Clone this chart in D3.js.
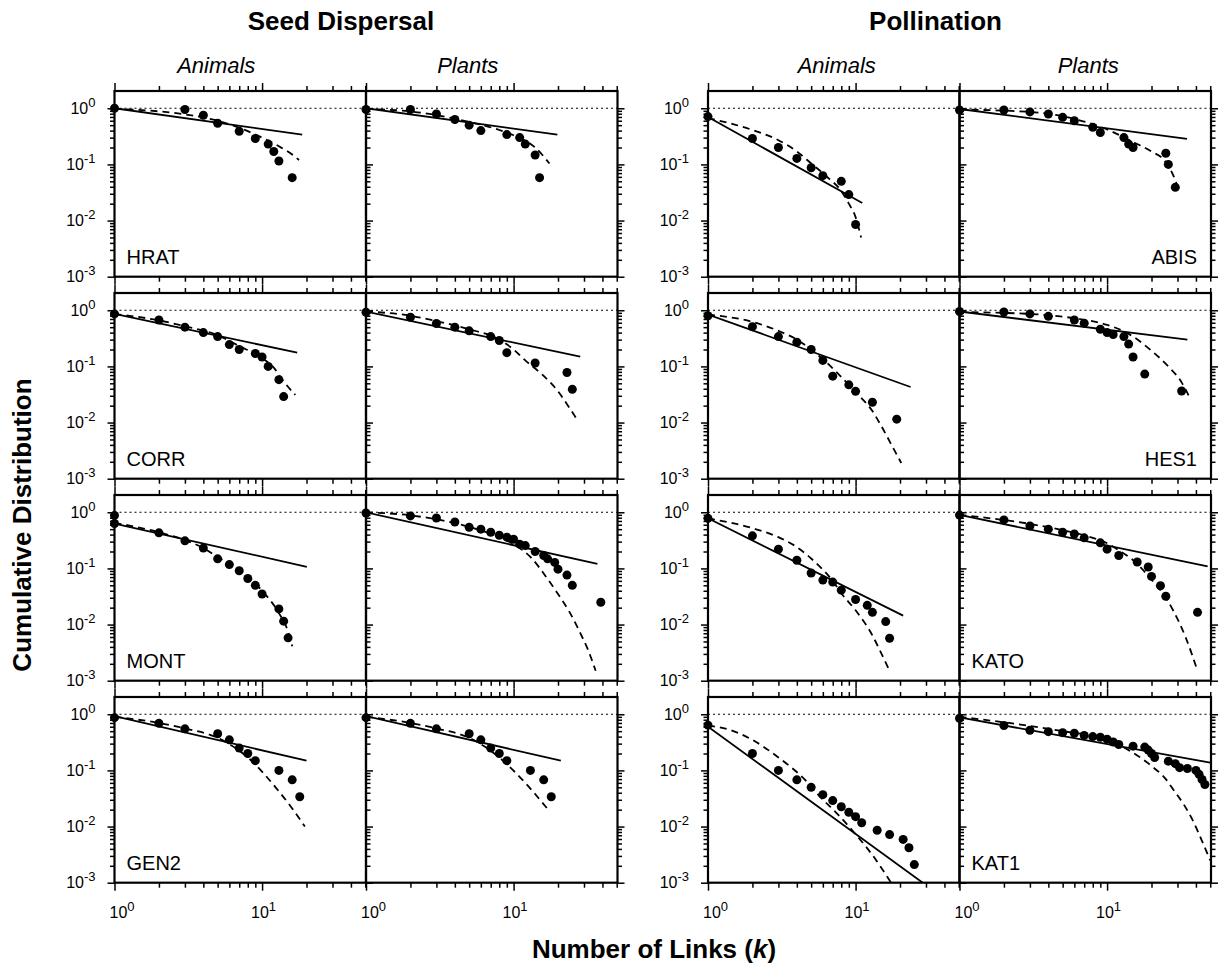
<!DOCTYPE html>
<html>
<head>
<meta charset="utf-8">
<title>Cumulative degree distributions</title>
<script src="https://cdnjs.cloudflare.com/ajax/libs/d3/7.8.5/d3.min.js"></script>
<style>
  body { margin: 0; background: #fff; }
  svg { font-family: "Liberation Sans", Arial, Helvetica, sans-serif; }
</style>
</head>
<body>
<script>

// values, [k, P(>=k)]
// Pts = observed, Pow = power-law fit (solid), Cut = truncated fit (dashed)

// seed dispersal
const hratAnimalsPts = [[1,1.0],[3,0.95],[4,0.75],[5,0.54],[7,0.39],[9,0.29],[11,0.23],[12,0.17],[13,0.115],[16,0.058]];
const hratAnimalsPow = [[1,1.0],[18.7,0.34]];
const hratAnimalsCut = [[1,0.98],[2,0.88],[3,0.78],[5,0.6],[7,0.45],[10,0.3],[13,0.21],[16,0.15],[17.8,0.12]];

const hratPlantsPts = [[1,0.95],[2,0.95],[3,0.79],[4,0.63],[5,0.50],[6,0.40],[9,0.34],[11,0.30],[12,0.23],[14,0.147],[15,0.058]];
const hratPlantsPow = [[1,1.0],[19.8,0.34]];
const hratPlantsCut = [[1,0.97],[2,0.88],[5,0.57],[8,0.41],[10,0.33],[14,0.2],[17.5,0.104]];

const corrAnimalsPts = [[1,0.86],[2,0.67],[3,0.50],[4,0.40],[5,0.34],[6,0.245],[7,0.20],[9,0.17],[10,0.147],[11,0.10],[13,0.058],[14,0.029]];
const corrAnimalsPow = [[1,0.86],[17.3,0.176]];
const corrAnimalsCut = [[1,0.86],[2,0.66],[3,0.52],[5,0.36],[7,0.23],[10,0.14],[12,0.095],[14,0.054],[16.8,0.031]];

const corrPlantsPts = [[1,0.92],[2,0.75],[3,0.58],[4,0.50],[5,0.43],[7,0.34],[8,0.29],[9,0.176],[14,0.115],[23,0.078],[25,0.039]];
const corrPlantsPow = [[1,0.95],[28.3,0.149]];
const corrPlantsCut = [[1,0.95],[2,0.8],[3,0.64],[5,0.46],[8,0.3],[10,0.2],[12.2,0.123],[15.6,0.072],[20,0.036],[24,0.018],[27.3,0.0107]];

const montAnimalsPts = [[1,0.88],[1,0.63],[2,0.43],[3,0.31],[4,0.23],[5,0.148],[6,0.117],[7,0.091],[8,0.066],[9,0.050],[10,0.035],[13,0.019],[14,0.0115],[15,0.0058]];
const montAnimalsPow = [[1,0.63],[20.1,0.107]];
const montAnimalsCut = [[1,0.65],[2,0.44],[3,0.32],[4,0.23],[5,0.16],[7,0.095],[10,0.04],[13,0.016],[15,0.0075],[16,0.0041]];

const montPlantsPts = [[1,0.97],[2,0.86],[3,0.79],[4,0.67],[5,0.54],[6,0.50],[7,0.44],[8,0.39],[9,0.36],[10,0.33],[11,0.27],[12,0.255],[14,0.20],[16,0.17],[17,0.148],[19,0.128],[20,0.097],[23,0.076],[25,0.050],[39,0.025]];
const montPlantsPow = [[1,1.0],[37,0.12]];
const montPlantsCut = [[1,1.0],[2,0.88],[5,0.55],[8,0.36],[10,0.27],[13,0.16],[17,0.065],[20,0.035],[24,0.0165],[28,0.0075],[32,0.0035],[36,0.0015]];

const gen2AnimalsPts = [[1,0.87],[2,0.69],[3,0.55],[5,0.45],[6,0.35],[7,0.25],[8,0.20],[9,0.149],[13,0.10],[16,0.068],[18,0.034]];
const gen2AnimalsPow = [[1,0.93],[20,0.149]];
const gen2AnimalsCut = [[1,0.9],[2,0.7],[3,0.56],[5,0.38],[8,0.17],[12.5,0.048],[16,0.021],[19.5,0.01]];

const gen2PlantsPts = [[1,0.87],[2,0.69],[3,0.55],[5,0.45],[6,0.35],[7,0.25],[8,0.20],[9,0.149],[13,0.10],[16,0.068],[18,0.034]];
const gen2PlantsPow = [[1,0.93],[20.9,0.149]];
const gen2PlantsCut = [[1,0.9],[2,0.7],[3,0.56],[5,0.38],[8,0.17],[12,0.06],[16.9,0.021]];

// pollination
const abisAnimalsPts = [[1,0.71],[2,0.29],[3,0.20],[4,0.128],[5,0.087],[6,0.063],[8,0.050],[9,0.029],[10,0.0085]];
const abisAnimalsPow = [[1,0.70],[11.1,0.0205]];
const abisAnimalsCut = [[1,0.67],[2,0.41],[3,0.27],[4,0.17],[5,0.104],[6.6,0.056],[7.9,0.035],[9,0.020],[10,0.0115],[10.9,0.005]];

const abisPlantsPts = [[1,0.93],[2,0.93],[3,0.86],[4,0.79],[5,0.69],[6,0.60],[8,0.46],[9,0.37],[13,0.30],[14,0.23],[15,0.20],[25,0.158],[26,0.10],[29,0.039]];
const abisPlantsPow = [[1,0.97],[34.8,0.285]];
const abisPlantsCut = [[1,0.95],[3,0.86],[5,0.72],[8,0.52],[10,0.42],[15,0.25],[20,0.17],[25,0.11],[28,0.065],[31,0.032]];

const hes1AnimalsPts = [[1,0.80],[2,0.51],[3,0.34],[4,0.27],[5,0.20],[6,0.128],[7,0.067],[9,0.047],[10,0.036],[13,0.023],[19,0.0115]];
const hes1AnimalsPow = [[1,0.84],[23.6,0.043]];
const hes1AnimalsCut = [[1,0.84],[2,0.62],[3,0.43],[4,0.30],[5,0.20],[6,0.135],[8,0.065],[10,0.035],[13,0.016],[15,0.0085],[18,0.0035],[20.4,0.0019]];

const hes1PlantsPts = [[1,0.95],[2,0.93],[3,0.86],[4,0.78],[6,0.67],[7,0.59],[9,0.46],[10,0.40],[11,0.37],[13,0.34],[14,0.25],[15,0.147],[18,0.073],[32,0.0365]];
const hes1PlantsPow = [[1,0.95],[35,0.30]];
const hes1PlantsCut = [[1,0.93],[3,0.86],[6,0.72],[10,0.55],[14,0.38],[20,0.19],[26,0.10],[32,0.052],[36,0.029]];

const katoAnimalsPts = [[1,0.78],[2,0.38],[3,0.22],[4,0.14],[5,0.083],[6,0.062],[7,0.057],[8,0.041],[10,0.028],[12,0.022],[13,0.0165],[16,0.0113],[17,0.0057]];
const katoAnimalsPow = [[1,0.78],[21,0.0144]];
const katoAnimalsCut = [[1,0.78],[2,0.52],[3,0.36],[4,0.24],[5,0.15],[6,0.095],[7,0.06],[8,0.036],[10,0.018],[13,0.0064],[15,0.003],[17,0.0015]];

const katoPlantsPts = [[1,0.89],[2,0.73],[3,0.57],[4,0.50],[5,0.44],[6,0.41],[7,0.35],[9,0.285],[10,0.22],[12,0.17],[16,0.13],[19,0.106],[20,0.072],[23,0.049],[25,0.032],[41,0.0165]];
const katoPlantsPow = [[1,0.9],[48,0.109]];
const katoPlantsCut = [[1,0.9],[3,0.62],[5,0.48],[8,0.35],[10,0.28],[12,0.21],[15,0.14],[20,0.063],[25,0.03],[28,0.018],[34,0.006],[41,0.0015]];

const kat1AnimalsPts = [[1,0.64],[2,0.20],[3,0.10],[4,0.068],[5,0.050],[6,0.037],[7,0.029],[8,0.0225],[9,0.018],[10,0.015],[11,0.0117],[14,0.0086],[17,0.0072],[21,0.0059],[23,0.0042],[25,0.0021]];
const kat1AnimalsPow = [[1,0.60],[29.6,0.00093]];
const kat1AnimalsCut = [[1,0.63],[1.43,0.52],[2,0.35],[3,0.17],[4.6,0.066],[5.8,0.033],[7.5,0.017],[10,0.0073],[12.9,0.0032],[17.4,0.001]];

const kat1PlantsPts = [[1,0.85],[2,0.63],[3,0.52],[4,0.49],[5,0.47],[6,0.46],[7,0.42],[8,0.40],[9,0.39],[10,0.36],[11,0.32],[12,0.29],[15,0.27],[18,0.26],[19,0.23],[20,0.20],[21,0.17],[26,0.146],[29,0.132],[31,0.112],[35,0.108],[40,0.10],[42,0.085],[44,0.069],[46,0.056]];
const kat1PlantsPow = [[1,0.88],[50,0.137]];
const kat1PlantsCut = [[1,0.9],[3,0.62],[5,0.5],[8,0.41],[10,0.35],[14,0.23],[20,0.12],[25,0.07],[28,0.046],[33,0.025],[38,0.013],[44,0.0055],[50,0.0025]];

const groupTitles = ["Seed Dispersal", "Pollination"];
const colTitles = ["Animals", "Plants"];
const xMajor = [1, 10];
const xMinor = [2,3,4,5,6,7,8,9,20,30,40,50];
const yMajor = [1, 0.1, 0.01, 0.001];
const yMinor = [0.1, 0.01, 0.001].flatMap(d => [2,3,4,5,6,7,8,9].map(m => m * d));
const refLevel = 1;

const panels = [
  {row:0, group:0, col:0, label:"HRAT", pts:hratAnimalsPts, pow:hratAnimalsPow, cut:hratAnimalsCut},
  {row:0, group:0, col:1, label:null,   pts:hratPlantsPts,  pow:hratPlantsPow,  cut:hratPlantsCut},
  {row:1, group:0, col:0, label:"CORR", pts:corrAnimalsPts, pow:corrAnimalsPow, cut:corrAnimalsCut},
  {row:1, group:0, col:1, label:null,   pts:corrPlantsPts,  pow:corrPlantsPow,  cut:corrPlantsCut},
  {row:2, group:0, col:0, label:"MONT", pts:montAnimalsPts, pow:montAnimalsPow, cut:montAnimalsCut},
  {row:2, group:0, col:1, label:null,   pts:montPlantsPts,  pow:montPlantsPow,  cut:montPlantsCut},
  {row:3, group:0, col:0, label:"GEN2", pts:gen2AnimalsPts, pow:gen2AnimalsPow, cut:gen2AnimalsCut},
  {row:3, group:0, col:1, label:null,   pts:gen2PlantsPts,  pow:gen2PlantsPow,  cut:gen2PlantsCut},
  {row:0, group:1, col:0, label:null,   pts:abisAnimalsPts, pow:abisAnimalsPow, cut:abisAnimalsCut},
  {row:0, group:1, col:1, label:"ABIS", labelSide:"right", pts:abisPlantsPts, pow:abisPlantsPow, cut:abisPlantsCut},
  {row:1, group:1, col:0, label:null,   pts:hes1AnimalsPts, pow:hes1AnimalsPow, cut:hes1AnimalsCut},
  {row:1, group:1, col:1, label:"HES1", labelSide:"right", pts:hes1PlantsPts, pow:hes1PlantsPow, cut:hes1PlantsCut},
  {row:2, group:1, col:0, label:null,   pts:katoAnimalsPts, pow:katoAnimalsPow, cut:katoAnimalsCut},
  {row:2, group:1, col:1, label:"KATO", pts:katoPlantsPts,  pow:katoPlantsPow,  cut:katoPlantsCut},
  {row:3, group:1, col:0, label:null,   pts:kat1AnimalsPts, pow:kat1AnimalsPow, cut:kat1AnimalsCut},
  {row:3, group:1, col:1, label:"KAT1", pts:kat1PlantsPts,  pow:kat1PlantsPow,  cut:kat1PlantsCut}
];

// layout
var width = 1218, height = 965;
var groupX = [114.5, 708];
var panelW = 251.5, panelH = 185.7;
var rowTop = 91, rowStep = 202;
var xDomain = [1, 50.6], yDomain = [0.001, 2.03];

var svg = d3.select("body").append("svg")
  .attr("width", width)
  .attr("height", height);

function powLabel(sel) {
  sel.each(function(d) {
    var t = d3.select(this);
    var e = Math.round(Math.log10(d));
    t.text(null);
    t.append("tspan").text("10");
    t.append("tspan").attr("dy", -7).attr("font-size", 13).text(e);
  });
}

function styleAxis(g) {
  g.select(".domain").remove();
  g.selectAll("line").attr("stroke", "#000").attr("stroke-width", 1.5);
  g.attr("font-family", null).attr("font-size", 16);
}

panels.forEach(function(p, i) {
  var left = groupX[p.group] + p.col * panelW;
  var top = rowTop + p.row * rowStep;
  var bottom = top + panelH;
  var x = d3.scaleLog().domain(xDomain).range([left, left + panelW]);
  var y = d3.scaleLog().domain(yDomain).range([bottom, top]);

  var g = svg.append("g");

  // ticks on top and bottom
  g.append("g").attr("transform", "translate(0," + top + ")")
    .call(d3.axisTop(x).tickValues(xMinor).tickSize(5).tickFormat("")).call(styleAxis);
  g.append("g").attr("transform", "translate(0," + top + ")")
    .call(d3.axisTop(x).tickValues(xMajor).tickSize(8).tickFormat("")).call(styleAxis);
  g.append("g").attr("transform", "translate(0," + bottom + ")")
    .call(d3.axisBottom(x).tickValues(xMinor).tickSize(5).tickFormat("")).call(styleAxis);
  var xb = g.append("g").attr("transform", "translate(0," + bottom + ")")
    .call(d3.axisBottom(x).tickValues(xMajor).tickSize(8).tickPadding(16)).call(styleAxis);
  if (p.row === 3) {
    xb.selectAll(".tick text").call(powLabel)
      .attr("dx", d => d === 1 ? 7 : 1);
  } else {
    xb.selectAll(".tick text").remove();
  }

  // ticks left (first column) and right
  if (p.col === 0) {
    g.append("g").attr("transform", "translate(" + left + ",0)")
      .call(d3.axisLeft(y).tickValues(yMinor).tickSize(4.5).tickFormat("")).call(styleAxis);
    g.append("g").attr("transform", "translate(" + left + ",0)")
      .call(d3.axisLeft(y).tickValues(yMajor).tickSize(7).tickPadding(12)).call(styleAxis)
      .selectAll(".tick text").call(powLabel);
  }
  g.append("g").attr("transform", "translate(" + (left + panelW) + ",0)")
    .call(d3.axisRight(y).tickValues(yMinor).tickSize(4.5).tickFormat("")).call(styleAxis);
  g.append("g").attr("transform", "translate(" + (left + panelW) + ",0)")
    .call(d3.axisRight(y).tickValues(yMajor).tickSize(7).tickFormat("")).call(styleAxis);

  // clip for fitted lines
  var clipId = "clip" + i;
  svg.append("clipPath").attr("id", clipId)
    .append("rect").attr("x", left).attr("y", top).attr("width", panelW).attr("height", panelH);

  // dotted reference at P = 1
  g.append("line")
    .attr("x1", x(xDomain[0])).attr("x2", x(xDomain[1]))
    .attr("y1", y(refLevel)).attr("y2", y(refLevel))
    .attr("stroke", "#000").attr("stroke-width", 1)
    .attr("stroke-dasharray", "2,3");

  // frame
  g.append("rect")
    .attr("x", left).attr("y", top).attr("width", panelW).attr("height", panelH)
    .attr("fill", "none").attr("stroke", "#000").attr("stroke-width", 2.2);

  var line = d3.line().x(d => x(d[0])).y(d => y(d[1]));

  g.append("path").datum(p.pow)
    .attr("clip-path", "url(#" + clipId + ")")
    .attr("d", line)
    .attr("fill", "none").attr("stroke", "#000").attr("stroke-width", 1.8);

  g.append("path").datum(p.cut)
    .attr("clip-path", "url(#" + clipId + ")")
    .attr("d", line.curve(d3.curveMonotoneX))
    .attr("fill", "none").attr("stroke", "#000").attr("stroke-width", 1.8)
    .attr("stroke-dasharray", "7,5");

  g.selectAll("circle").data(p.pts).join("circle")
    .attr("cx", d => x(d[0]))
    .attr("cy", d => y(d[1]))
    .attr("r", 4.5)
    .attr("fill", "#000");

  if (p.label) {
    var right = p.labelSide === "right";
    g.append("text")
      .attr("x", right ? left + panelW - 14 : left + 12)
      .attr("y", bottom - 13)
      .attr("text-anchor", right ? "end" : "start")
      .attr("font-size", 20)
      .text(p.label);
  }
});

// group titles and column titles
var titleDx = [-25, -24];
var colDx = [-24, 3];
groupTitles.forEach(function(t, gi) {
  svg.append("text")
    .attr("x", groupX[gi] + panelW + titleDx[gi])
    .attr("y", 30)
    .attr("text-anchor", "middle")
    .attr("font-size", 26).attr("font-weight", "bold")
    .text(t);
  colTitles.forEach(function(c, ci) {
    svg.append("text")
      .attr("x", groupX[gi] + panelW * (ci + 0.5) + colDx[gi])
      .attr("y", 73)
      .attr("text-anchor", "middle")
      .attr("font-size", 22).attr("font-style", "italic")
      .text(c);
  });
});

// axis titles
var xt = svg.append("text")
  .attr("x", 654).attr("y", 958)
  .attr("text-anchor", "middle")
  .attr("font-size", 26).attr("font-weight", "bold");
xt.append("tspan").text("Number of Links (");
xt.append("tspan").attr("font-style", "italic").text("k");
xt.append("tspan").text(")");

svg.append("text")
  .attr("transform", "translate(31,525) rotate(-90)")
  .attr("text-anchor", "middle")
  .attr("font-size", 26).attr("font-weight", "bold")
  .text("Cumulative Distribution");

</script>
</body>
</html>
